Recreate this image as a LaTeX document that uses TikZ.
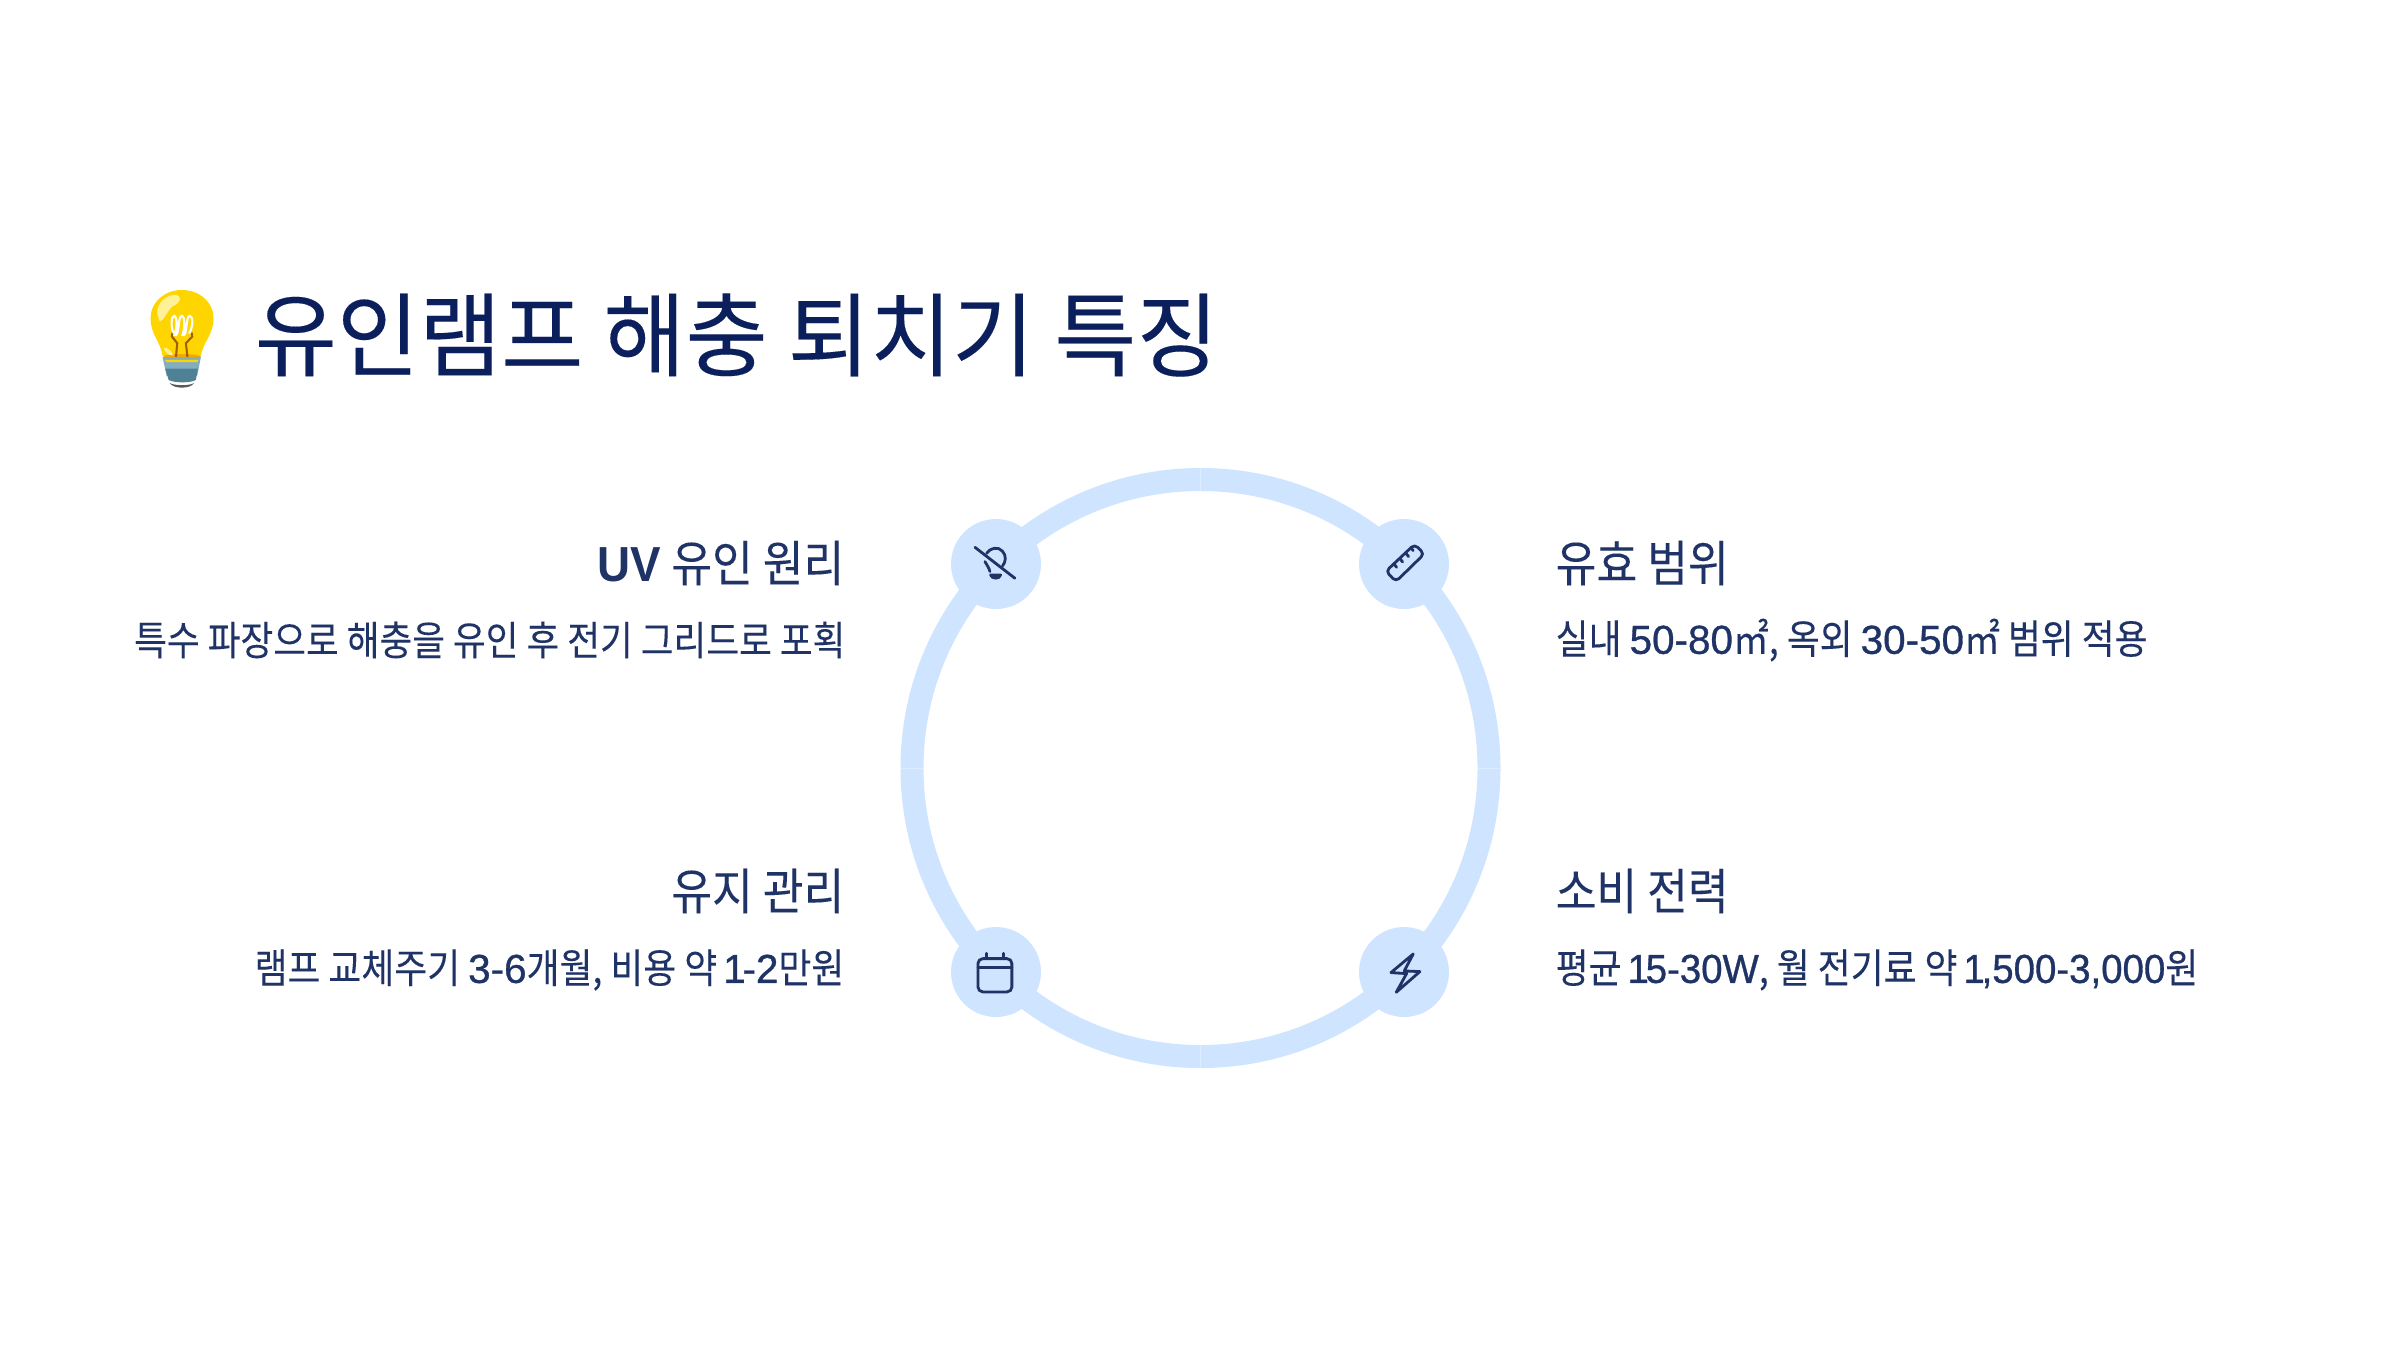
\documentclass[tikz,border=0pt]{standalone}
\usepackage{fontspec}
\setmainfont{Noto Sans CJK KR}
\newfontfamily\titlefont[FakeStretch=0.977,FakeBold=0.15]{Noto Sans CJK KR}
\newfontfamily\headfont[FakeStretch=0.9,FakeBold=0.08]{Noto Sans CJK KR}
\newfontfamily\descfont[FakeStretch=0.885,FakeBold=0.05]{Noto Sans CJK KR}
\newfontfamily\latfont[FakeBold=0.8]{Liberation Sans}
\newfontfamily\latnfont[FakeBold=0.8,FakeStretch=0.95]{Liberation Sans}
\newfontfamily\uvfont[FakeStretch=0.93]{Liberation Sans}
\newcommand{\lat}[1]{{\latfont #1}}
\newcommand{\latn}[1]{{\latnfont #1}}
\newcommand{\onefig}{\kern-0.05em 1\kern-0.08em}
\definecolor{titleblue}{HTML}{0B1F5C}
\definecolor{textblue}{HTML}{1F3366}
\definecolor{ringblue}{HTML}{CFE5FF}
\definecolor{seamblue}{HTML}{DDEDFF}
\definecolor{bulby}{HTML}{FFD500}
\definecolor{bulbo}{HTML}{F5A800}
\definecolor{bulbp}{HTML}{FFF296}
\definecolor{bulbb}{HTML}{A05F0A}
\definecolor{metala}{HTML}{82AEC0}
\definecolor{metalb}{HTML}{4E8096}
\definecolor{metalc}{HTML}{5A5A5A}
\tikzset{
  titletext/.style={anchor=west,inner sep=0,text=titleblue,font={\fontsize{26}{30}\selectfont\titlefont}},
  headtext/.style={inner sep=0,text=textblue,font={\fontsize{14}{17}\selectfont\headfont}},
  desctext/.style={inner sep=0,text=textblue,font={\fontsize{11.5}{14}\selectfont\descfont}},
  iconline/.style={draw=textblue,line width=0.8pt,line cap=round,line join=round},
  seam/.style={draw=seamblue,line width=0.25pt},
}
\begin{document}
\begin{tikzpicture}[x=0.01cm,y=-0.01cm]
\useasboundingbox (0,0) rectangle (2400,1350);
\fill[white] (0,0) rectangle (2400,1350);
% ring
\coordinate (ringc) at (1200.5,768);
\draw[ringblue,line width=6.54pt] (ringc) circle[radius=288.5];
\draw[seam] (1200.5,468) -- (1200.5,491) (1200.5,1045) -- (1200.5,1068) (901,768) -- (923,768) (1478,768) -- (1500,768);
% hubs
\fill[ringblue] (996,564) circle[radius=45];
\fill[ringblue] (1404,564) circle[radius=45];
\fill[ringblue] (996,972) circle[radius=45];
\fill[ringblue] (1404,972) circle[radius=45];
% icon: bulb off
\begin{scope}[shift={(940,510)},x=0.00333cm,y=-0.00333cm]
\draw[iconline] (105,112) -- (225,205);
\draw[iconline] (140,130) .. controls (150,114) and (175,108) .. (188,124) .. controls (200,138) and (198,155) .. (188,168);
\draw[iconline] (135,155) .. controls (140,165) and (147,172) .. (150,185);
\draw[iconline] (152,195) -- (182,195) .. controls (180,208) and (155,208) .. (152,195);
\end{scope}
% icon: ruler
\begin{scope}[shift={(1350,510)},x=0.00333cm,y=-0.00333cm]
\draw[iconline,rounded corners=1.2pt] (194,103) -- (223,132) -- (138,215) -- (108,184) -- cycle;
\draw[iconline] (132,162) -- (140,172) (150,146) -- (158,156) (168,130) -- (176,140) (184,115) -- (190,122);
\end{scope}
% icon: calendar
\begin{scope}[shift={(940,920)},x=0.00333cm,y=-0.00333cm]
\draw[iconline,rounded corners=1.4pt] (114,116) rectangle (216,216);
\draw[iconline] (114,142) -- (216,142) (139,100) -- (139,116) (191,100) -- (191,116);
\end{scope}
% icon: bolt
\begin{scope}[shift={(1350,920)},x=0.00333cm,y=-0.00333cm]
\draw[iconline] (190,102) -- (123,158) -- (170,161) -- (139,217) -- (210,155) -- (163,153) -- cycle;
\end{scope}
% emoji bulb
\begin{scope}[shift={(120,270)},x=0.00333cm,y=-0.00333cm]
\fill[bulby] (128,258) .. controls (122,215) and (92,195) .. (92,145) .. controls (92,95) and (135,60) .. (186,60) .. controls (237,60) and (281,95) .. (281,145) .. controls (281,195) and (250,215) .. (243,258) -- cycle;
\fill[bulbo] (128,262) .. controls (128,250) and (243,250) .. (243,262) -- cycle;
\fill[bulbp] (112,130) .. controls (110,100) and (140,72) .. (168,75) .. controls (190,80) and (180,100) .. (160,108) .. controls (145,115) and (130,160) .. (118,152) -- cycle;
\fill[bulbp] (132,235) .. controls (140,228) and (155,245) .. (160,256) .. controls (150,258) and (135,250) .. (132,235) -- cycle;
\draw[bulbb,line width=0.6pt] (158,188) -- (156,200) -- (172,220) -- (168,265);
\draw[bulbb,line width=0.6pt] (215,188) -- (217,200) -- (198,220) -- (203,265);
\draw[white,line width=0.6pt,line cap=round] (162,190) .. controls (150,170) and (155,135) .. (164,138) .. controls (172,140) and (172,175) .. (164,195)
  .. controls (180,205) and (172,135) .. (187,138) .. controls (195,140) and (195,175) .. (188,195)
  .. controls (203,205) and (197,135) .. (210,138) .. controls (222,140) and (218,175) .. (208,190);
\fill[metala] (128,262) -- (243,262) -- (232,318) -- (140,318) -- cycle;
\fill[metalb] (136,296) -- (234,296) -- (228,330) .. controls (215,340) and (160,340) .. (146,330) -- cycle;
\fill[metalc] (150,340) .. controls (165,348) and (208,348) .. (222,340) .. controls (212,358) and (160,358) .. (150,340) -- cycle;
\fill[bulby] (135,270) -- (235,270) -- (233,277) -- (140,277) -- cycle;
\end{scope}
% texts
\node[titletext] (title) at (254,335) {유인램프 해충 퇴치기 특징};
\node[headtext,anchor=east] (h1) at (845,563) {{\uvfont\bfseries UV} 유인 원리};
\node[desctext,anchor=east,xscale=0.995] (d1) at (846,640) {특수 파장으로 해충을 유인 후 전기 그리드로 포획};
\node[headtext,anchor=east] (h2) at (845,891) {유지 관리};
\node[desctext,anchor=east] (d2) at (845,970) {램프 교체주기 \lat{3-6}개월, 비용 약 \lat{\onefig-2}만원};
\node[headtext,anchor=west] (h3) at (1555,563) {유효 범위};
\node[desctext,anchor=west] (d3) at (1555,640) {실내 \lat{50-80}㎡, 옥외 \lat{30-50}㎡ 범위 적용};
\node[headtext,anchor=west] (h4) at (1555,891) {소비 전력};
\node[desctext,anchor=west] (d4) at (1555,970) {평균 \latn{\onefig 5-30W}, 월 전기료 약 \latn{\onefig,500-3,000}원};
\end{tikzpicture}
\end{document}
